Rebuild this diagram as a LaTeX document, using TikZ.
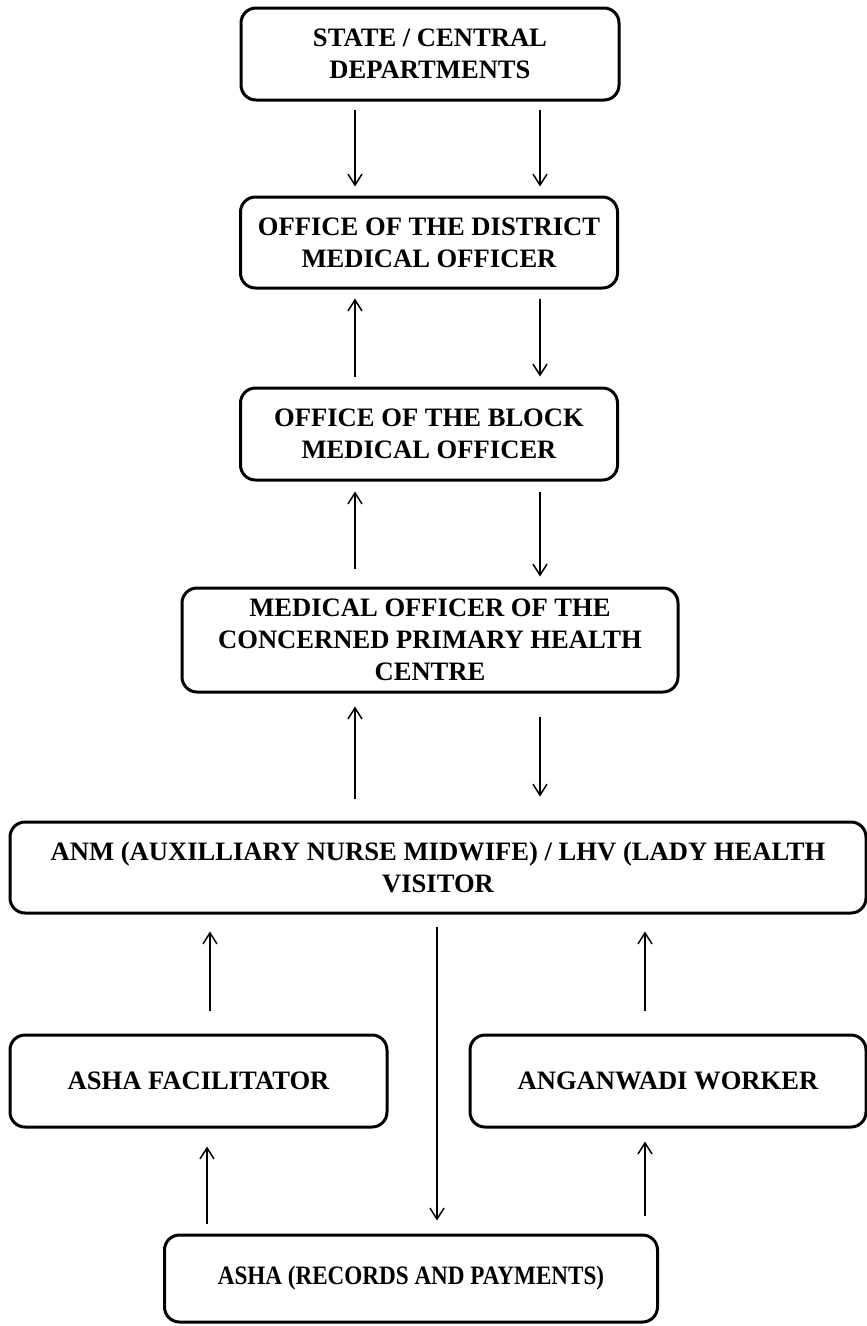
\documentclass[tikz,border=0pt]{standalone}
\usepackage{fontspec}
\setmainfont{Liberation Serif}
\newfontfamily\condensedserif{Liberation Serif}[FakeStretch=0.87]
\usetikzlibrary{positioning, arrows.meta}
\tikzset{
every picture/.style={
line width=1.5pt
}}
\tikzset{
  unit/.style={draw, line width=3pt, rounded corners=15pt, align=center,
    inner sep=0pt, font=\bfseries\fontsize{26.6}{32}\selectfont},
  flow/.style={-{Straight Barb[length=11pt, width=14pt]}, line width=1.5pt}
}

\begin{document}
\begin{tikzpicture}[x=1pt, y=-1pt]
  \useasboundingbox (0,0) rectangle (867,1326);

  \node [unit, minimum width=378pt, minimum height=92pt] (st) at (430,54)
    {STATE / CENTRAL\\DEPARTMENTS};
  \node [unit, minimum width=377pt, minimum height=91pt] (dmo) at (429,242.5)
    {OFFICE OF THE DISTRICT\\MEDICAL OFFICER};
  \node [unit, minimum width=377pt, minimum height=92pt] (bmo) at (429,434)
    {OFFICE OF THE BLOCK\\MEDICAL OFFICER};
  \node [unit, minimum width=496pt, minimum height=104pt] (mo) at (430,640)
    {MEDICAL OFFICER OF THE\\CONCERNED PRIMARY HEALTH\\CENTRE};
  \node [unit, minimum width=856pt, minimum height=91pt] (anm) at (438,867.5)
    {ANM (AUXILLIARY NURSE MIDWIFE) / LHV (LADY HEALTH\\VISITOR};
  \node [unit, minimum width=377pt, minimum height=92pt] (fac) at (198.5,1081)
    {ASHA FACILITATOR};
  \node [unit, minimum width=396pt, minimum height=92pt] (ang) at (668,1081)
    {ANGANWADI WORKER};
  \node [unit, minimum width=493pt, minimum height=87pt,
    font=\condensedserif\bfseries\fontsize{26.6}{32}\selectfont] (asha) at (411,1278.5)
    {ASHA (RECORDS AND PAYMENTS)};

  % downward flow
  \foreach \a/\b/\d/\s/\e in {st/dmo/-75/8/9, st/dmo/110/8/9, dmo/bmo/111/9/10,
      bmo/mo/111/10/10, mo/anm/110/23/24, anm/asha/-1/12/13} {
    \draw [flow, shorten <=\s pt, shorten >=\e pt]
      ([xshift=\d pt]\a.south) -- ([xshift=\d pt]\a.south |- \b.north);
  }
  % upward flow
  \foreach \a/\b/\d/\s/\e in {bmo/dmo/-74/10/9, mo/bmo/-75/18/10, anm/mo/-83/22/13,
      fac/anm/11.5/23/17, ang/anm/-23/23/17, asha/fac/-204/10/18, asha/ang/234/18/13} {
    \draw [flow, shorten <=\s pt, shorten >=\e pt]
      ([xshift=\d pt]\a.north) -- ([xshift=\d pt]\a.north |- \b.south);
  }
\end{tikzpicture}
\end{document}
